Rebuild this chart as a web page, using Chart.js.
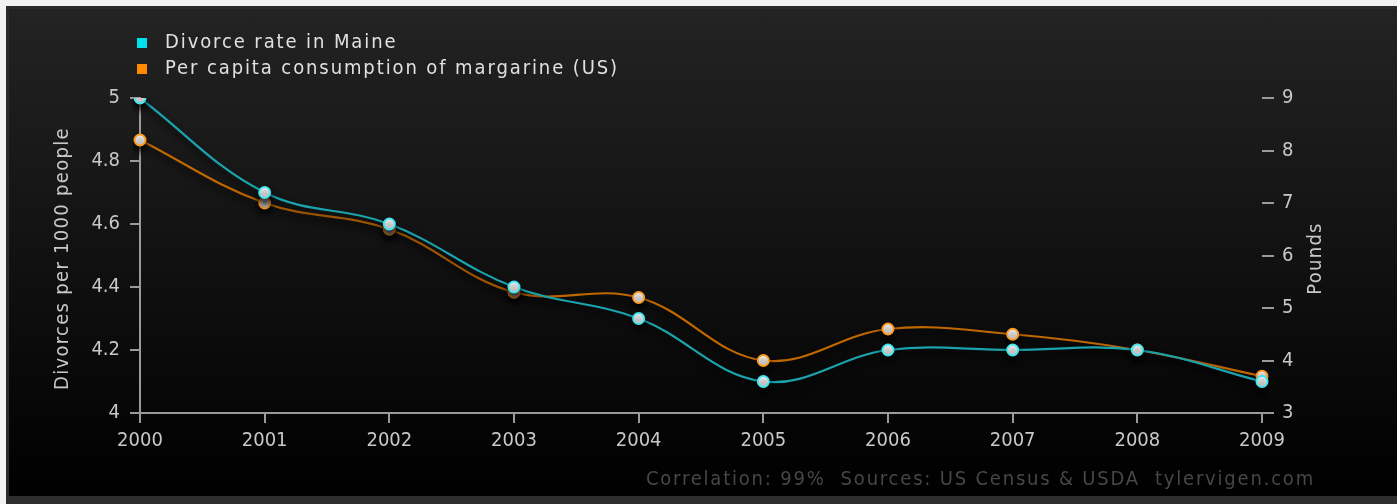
<!DOCTYPE html>
<html>
<head>
<meta charset="utf-8">
<script src="https://cdn.jsdelivr.net/npm/chart.js@4.4.1/dist/chart.umd.min.js"></script>
<style>
    html, body {
        margin: 0;
        padding: 0;
        width: 1397px;
        height: 504px;
        overflow: hidden;
        background: #f2f2f2;
        font-family: "DejaVu Sans Condensed", "DejaVu Sans", sans-serif;
    }
    #panel {
        position: absolute;
        left: 6px;
        top: 6px;
        width: 1391px;
        height: 490px;
        background: linear-gradient(#232323, #000 100%);
        border-left: 3px solid #2b2b2b;
        border-top: 3px solid #2b2b2b;
        box-sizing: border-box;
    }
    #strip {
        position: absolute;
        left: 6px;
        top: 496px;
        width: 1391px;
        height: 8px;
        background: #2e2e2e;
    }
    #chart-wrap {
        position: absolute;
        left: 0;
        top: 0;
        width: 1397px;
        height: 504px;
    }
    #legend {
        position: absolute;
        left: 137px;
        top: 28px;
        color: #e0e0e0;
        font-size: 20px;
        letter-spacing: 1.9px;
    }
    #legend .item {
        height: 26px;
        line-height: 26px;
        white-space: nowrap;
    }
    #legend .box {
        display: inline-block;
        width: 10px;
        height: 10px;
        margin-right: 18px;
        vertical-align: 0px;
    }
    #footer {
        position: absolute;
        right: 82px;
        top: 466px;
        color: #474747;
        font-size: 20px;
        letter-spacing: 1.8px;
        white-space: pre;
    }
</style>
</head>
<body>
<div id="panel"></div>
<div id="strip"></div>
<div id="chart-wrap"><canvas id="myChart" width="1397" height="504"></canvas></div>
<div id="legend"></div>
<div id="footer">Correlation: 99%  Sources: US Census &amp; USDA  tylervigen.com</div>
<script>
var years = ['2000', '2001', '2002', '2003', '2004', '2005', '2006', '2007', '2008', '2009'];
var divorceRate = [5.0, 4.7, 4.6, 4.4, 4.3, 4.1, 4.2, 4.2, 4.2, 4.1];
var margarine = [8.2, 7.0, 6.5, 5.3, 5.2, 4.0, 4.6, 4.5, 4.2, 3.7];
var seriesNames = ['Divorce rate in Maine', 'Per capita consumption of margarine (US)'];
var leftTitle = 'Divorces per 1000 people';
var rightTitle = 'Pounds';

var lineColors = ['#1aa3ac', '#bf6700'];
var keyColors = ['#00e1f0', '#ff8a00'];
var pointRims = ['#40e6f0', '#ff9a20'];
var axisColor = '#9a9a9a';
var labelColor = '#c8c8c8';
var fontFamily = '"DejaVu Sans Condensed", "DejaVu Sans", sans-serif';

// html legend, like the original
var legend = document.getElementById('legend');
seriesNames.forEach(function(name, i) {
    var row = document.createElement('div');
    row.className = 'item';
    var box = document.createElement('span');
    box.className = 'box';
    box.style.background = keyColors[i];
    row.appendChild(box);
    row.appendChild(document.createTextNode(name));
    legend.appendChild(row);
});

var shadowPlugin = {
    id: 'shadow',
    beforeDatasetsDraw: function(chart) {
        var ctx = chart.ctx;
        ctx.save();
        ctx.shadowColor = 'rgba(0,0,0,0.9)';
        ctx.shadowBlur = 7;
        ctx.shadowOffsetY = 5;
    },
    afterDatasetsDraw: function(chart) {
        chart.ctx.restore();
    }
};

// both axis titles read bottom-to-top in the original
function drawTitle(ctx, text, x, y) {
    ctx.save();
    ctx.translate(x, y);
    ctx.rotate(-Math.PI / 2);
    ctx.fillStyle = labelColor;
    ctx.font = '20px ' + fontFamily;
    ctx.letterSpacing = '1.3px';
    ctx.textAlign = 'center';
    ctx.textBaseline = 'middle';
    ctx.fillText(text, 0, 0);
    ctx.restore();
}

var titlesPlugin = {
    id: 'axisTitles',
    afterDraw: function(chart) {
        var l = chart.scales.y;
        var r = chart.scales.y1;
        drawTitle(chart.ctx, leftTitle, l.left + 63, (l.top + l.bottom) / 2 + 3);
        drawTitle(chart.ctx, rightTitle, r.left + 54, (r.top + r.bottom) / 2 + 3);
    }
};

function tickFont() {
    return { family: fontFamily, size: 20 };
}

var context = document.getElementById('myChart').getContext('2d');
var myLineChart = new Chart(context, {
    type: 'line',
    data: {
        labels: years,
        datasets: [{
            label: seriesNames[0],
            data: divorceRate,
            yAxisID: 'y',
            borderColor: lineColors[0],
            borderWidth: 2.2,
            pointRadius: 5.5,
            pointBorderWidth: 2,
            pointBackgroundColor: '#ffffff',
            pointBorderColor: pointRims[0],
            tension: 0.38,
            fill: false
        }, {
            label: seriesNames[1],
            data: margarine,
            yAxisID: 'y1',
            borderColor: lineColors[1],
            borderWidth: 2.2,
            pointRadius: 5.5,
            pointBorderWidth: 2,
            pointBackgroundColor: '#ffffff',
            pointBorderColor: pointRims[1],
            tension: 0.38,
            fill: false
        }]
    },
    options: {
        responsive: false,
        animation: false,
        layout: {
            padding: { top: 98, left: 0, right: 0, bottom: 0 }
        },
        plugins: {
            legend: { display: false },
            tooltip: { enabled: false }
        },
        scales: {
            x: {
                offset: false,
                border: { display: true, color: axisColor, width: 2 },
                grid: { drawOnChartArea: false, drawTicks: true, tickLength: 10, color: axisColor, lineWidth: 2 },
                ticks: { color: labelColor, font: tickFont(), padding: 6, maxRotation: 0 },
                afterFit: function(scale) { scale.height = 91; }
            },
            y: {
                position: 'left',
                min: 4,
                max: 5,
                border: { display: true, color: axisColor, width: 2 },
                grid: { drawOnChartArea: false, drawTicks: true, tickLength: 10, color: axisColor, lineWidth: 2 },
                ticks: {
                    stepSize: 0.2,
                    color: labelColor,
                    font: tickFont(),
                    padding: 10,
                    callback: function(v) { return String(Number(v.toFixed(1))); }
                },
                afterFit: function(scale) { scale.width = 140; }
            },
            y1: {
                position: 'right',
                min: 3,
                max: 9,
                border: { display: false },
                grid: { drawOnChartArea: false, drawTicks: true, tickLength: 12, color: axisColor, lineWidth: 2 },
                ticks: { stepSize: 1, color: labelColor, font: tickFont(), padding: 8 },
                afterFit: function(scale) { scale.width = 135; }
            }
        }
    },
    plugins: [shadowPlugin, titlesPlugin]
});
</script>
</body>
</html>
